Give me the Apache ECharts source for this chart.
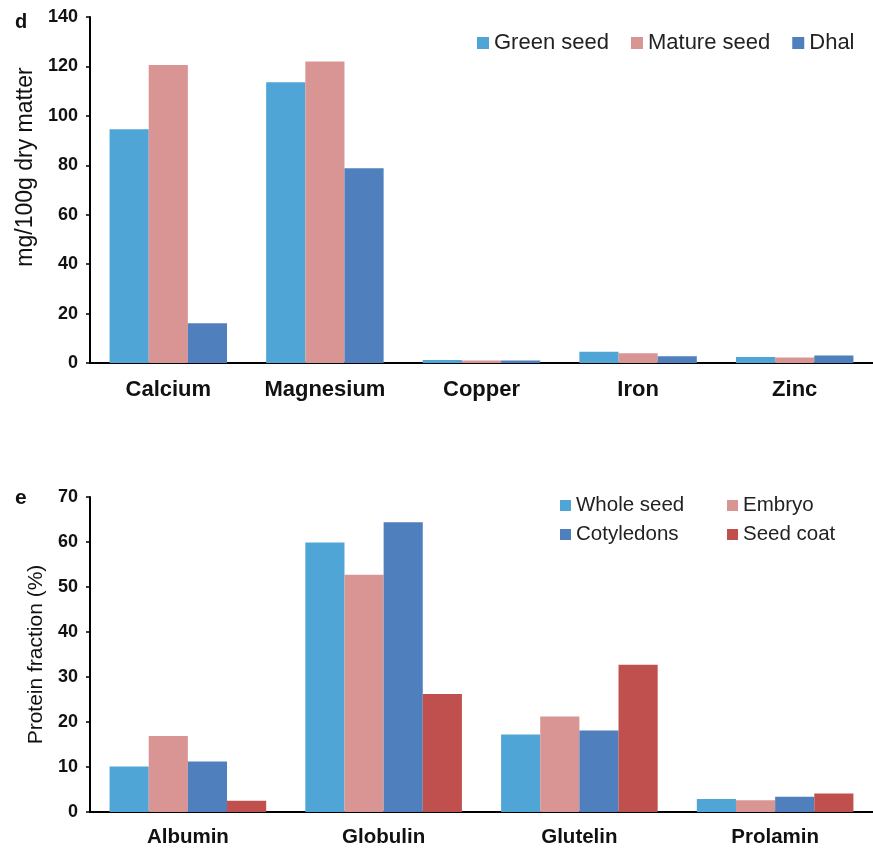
<!DOCTYPE html>
<html>
<head>
<meta charset="utf-8">
<script src="https://cdn.jsdelivr.net/npm/echarts@6/dist/echarts.min.js"></script>
<style>
html,body{margin:0;padding:0;background:#fff;}
#chart{width:873px;height:851px;}
</style>
</head>
<body>
<div id="chart"></div>
<script>
// Panel d: minerals
const mineralCategories = ['Calcium', 'Magnesium', 'Copper', 'Iron', 'Zinc'];
const greenSeed = [94.6, 113.6, 1.2, 4.6, 2.4];
const matureSeed = [120.6, 122.0, 1.0, 3.9, 2.2];
const dhal = [16.1, 78.8, 1.0, 2.7, 3.0];
const mineralTicks = [0, 20, 40, 60, 80, 100, 120, 140];

// Panel e: protein fractions
const proteinCategories = ['Albumin', 'Globulin', 'Glutelin', 'Prolamin'];
const wholeSeed = [10.1, 59.9, 17.2, 2.9];
const embryo = [16.9, 52.7, 21.2, 2.6];
const cotyledons = [11.2, 64.4, 18.1, 3.4];
const seedCoat = [2.5, 26.2, 32.7, 4.1];
const proteinTicks = [0, 10, 20, 30, 40, 50, 60, 70];

const FONT = '"Liberation Sans", Arial, Helvetica, sans-serif';
const C1 = '#4FA5D5', C2 = '#D99594', C3 = '#4F80BD', C4 = '#C0504D';

const chart = echarts.init(document.getElementById('chart'), null, {renderer: 'canvas'});

function yAxisCfg(gridIndex, ticks, name, nameGap, pad) {
  return {
    type: 'value', gridIndex: gridIndex,
    min: ticks[0], max: ticks[ticks.length - 1],
    interval: ticks[1] - ticks[0],
    name: name, nameLocation: 'middle', nameGap: nameGap,
    nameTextStyle: {fontFamily: FONT, fontSize: gridIndex === 0 ? 23 : 21, color: '#111', padding: pad},
    axisLine: {show: true, lineStyle: {color: '#000', width: 2}},
    axisTick: {show: true, length: 4, lineStyle: {color: '#000', width: 1.5}},
    axisLabel: {fontFamily: FONT, fontWeight: 'bold', fontSize: 18, color: '#111', margin: 12},
    splitLine: {show: false}
  };
}
function xAxisCfg(gridIndex, cats, fs, margin) {
  return {
    type: 'category', gridIndex: gridIndex, data: cats,
    axisLine: {show: true, lineStyle: {color: '#000', width: 2}},
    axisTick: {show: false},
    axisLabel: {interval: 0, hideOverlap: false, fontFamily: FONT, fontWeight: 'bold', fontSize: fs, color: '#111', margin: margin},
    splitLine: {show: false}
  };
}
function bar(name, data, color, xi, gap) {
  return {
    type: 'bar', name: name, data: data, xAxisIndex: xi, yAxisIndex: xi,
    barGap: '0%', barCategoryGap: gap,
    itemStyle: {color: color},
    emphasis: {disabled: true}
  };
}

const option = {
  backgroundColor: '#fff',
  animation: false,
  title: [
    {text: 'd', left: 10, top: 7, textStyle: {fontFamily: FONT, fontWeight: 'bold', fontSize: 20, color: '#111'}},
    {text: 'e', left: 10, top: 483, textStyle: {fontFamily: FONT, fontWeight: 'bold', fontSize: 21, color: '#111'}}
  ],
  legend: [
    {
      data: ['Green seed', 'Mature seed', 'Dhal'],
      left: 477, top: 32, padding: 0, itemGap: 22,
      itemWidth: 12, itemHeight: 12, icon: 'rect',
      textStyle: {fontFamily: FONT, fontSize: 22, color: '#222'}
    },
    {
      data: ['Whole seed', 'Cotyledons'], orient: 'vertical',
      left: 560, top: 495, padding: 0, itemGap: 8,
      itemWidth: 11, itemHeight: 11, icon: 'rect',
      textStyle: {fontFamily: FONT, fontSize: 20.5, color: '#222'}
    },
    {
      data: ['Embryo', 'Seed coat'], orient: 'vertical',
      left: 727, top: 495, padding: 0, itemGap: 8,
      itemWidth: 11, itemHeight: 11, icon: 'rect',
      textStyle: {fontFamily: FONT, fontSize: 20.5, color: '#222'}
    }
  ],
  grid: [
    {left: 90, top: 17, width: 784, height: 346, containLabel: false},
    {left: 90, top: 497, width: 784, height: 315, containLabel: false}
  ],
  xAxis: [
    xAxisCfg(0, mineralCategories, 22, 16),
    xAxisCfg(1, proteinCategories, 20.5, 15)
  ],
  yAxis: [
    yAxisCfg(0, mineralTicks, 'mg/100g dry matter', 53, [0, 0, 0, 46]),
    yAxisCfg(1, proteinTicks, 'Protein fraction (%)', 40, 0)
  ],
  series: [
    bar('Green seed', greenSeed, C1, 0, '25%'),
    bar('Mature seed', matureSeed, C2, 0, '25%'),
    bar('Dhal', dhal, C3, 0, '25%'),
    bar('Whole seed', wholeSeed, C1, 1, '20%'),
    bar('Embryo', embryo, C2, 1, '20%'),
    bar('Cotyledons', cotyledons, C3, 1, '20%'),
    bar('Seed coat', seedCoat, C4, 1, '20%')
  ]
};
chart.setOption(option);
</script>
</body>
</html>
